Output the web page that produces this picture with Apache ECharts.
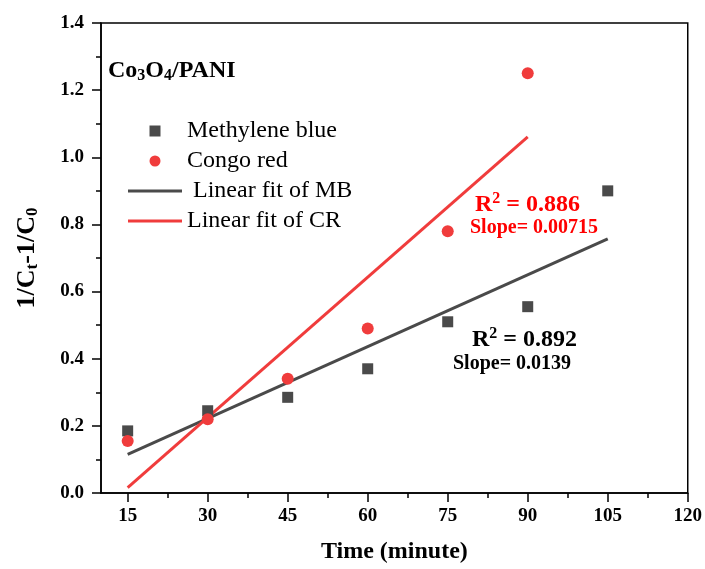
<!DOCTYPE html>
<html>
<head>
<meta charset="utf-8">
<script src="https://cdn.jsdelivr.net/npm/echarts@6/dist/echarts.min.js"></script>
<style>html,body{margin:0;padding:0;background:#fff;}#c{width:705px;height:569px;}</style>
</head>
<body>
<div id="c"></div>
<script>
// ---- data ----
var mbTimes = [15, 30, 45, 60, 75, 90, 105];
var mbValues = [0.185, 0.245, 0.285, 0.37, 0.51, 0.555, 0.90];
var crTimes = [15, 30, 45, 60, 75, 90];
var crValues = [0.155, 0.22, 0.34, 0.49, 0.78, 1.25];
var mbFitTimes = [15, 105];
var mbFitValues = [0.115, 0.757];
var crFitTimes = [15, 90];
var crFitValues = [0.016, 1.061];
var xTickLabels = [15, 30, 45, 60, 75, 90, 105, 120];
var xMinorTicks = [22.5, 37.5, 52.5, 67.5, 82.5, 97.5, 112.5];

function pairs(xs, ys) { return xs.map(function (x, i) { return [x, ys[i]]; }); }

var FONT = 'Liberation Serif';
var GRAY = '#4a4a4a';
var RED = '#f03c3c';

var chart = echarts.init(document.getElementById('c'), null, {renderer: 'canvas'});
chart.setOption({
  backgroundColor: '#fff',
  animation: false,
  grid: {left: 101, right: 16, top: 23, bottom: 74, show: true, borderColor: '#000', borderWidth: 1.5, containLabel: false},
  xAxis: [{
    type: 'value', min: 10, max: 120,
    name: 'Time (minute)', nameLocation: 'middle', nameGap: 47,
    nameTextStyle: {fontFamily: FONT, fontWeight: 'bold', fontSize: 24, color: '#000'},
    axisLine: {show: true, lineStyle: {color: '#000', width: 1.5}},
    axisTick: {show: true, inside: false, length: 9, lineStyle: {color: '#000', width: 1.5}, customValues: xTickLabels},
    axisLabel: {customValues: xTickLabels, margin: 14, fontFamily: FONT, fontWeight: 'bold', fontSize: 19, color: '#000'},
    splitLine: {show: false}
  }, {
    type: 'value', min: 10, max: 120, position: 'bottom',
    axisLine: {show: false},
    axisTick: {show: true, length: 5, lineStyle: {color: '#000', width: 1.5}, customValues: xMinorTicks},
    axisLabel: {show: false},
    splitLine: {show: false}
  }],
  yAxis: {
    type: 'value', min: 0, max: 1.4, interval: 0.2,
    name: '{n|1/C}{s|t}{n|-1/C}{s|0}', nameLocation: 'middle', nameGap: 60, nameRotate: 90,
    nameTextStyle: {
      fontFamily: FONT, fontWeight: 'bold', fontSize: 26, color: '#000',
      rich: {
        n: {fontFamily: FONT, fontWeight: 'bold', fontSize: 26, color: '#000'},
        s: {fontFamily: FONT, fontWeight: 'bold', fontSize: 17, color: '#000', padding: [10, 0, 0, 0]}
      }
    },
    axisLine: {show: true, lineStyle: {color: '#000', width: 1.5}},
    axisTick: {show: true, inside: false, length: 9, lineStyle: {color: '#000', width: 1.5}},
    minorTick: {show: true, splitNumber: 2, length: 5, lineStyle: {color: '#000', width: 1.5}},
    axisLabel: {margin: 17, fontFamily: FONT, fontWeight: 'bold', fontSize: 19, color: '#000',
      formatter: function (v) { return v.toFixed(1); }},
    splitLine: {show: false}
  },
  legend: {
    orient: 'vertical', left: 123, top: 114,
    itemWidth: 54, itemHeight: 11, itemGap: 6, symbolKeepAspect: true,
    textStyle: {fontFamily: FONT, fontSize: 24, color: '#000', lineHeight: 24},
    data: [
      {name: 'Methylene blue', icon: 'path://M0,0H10V10H0Z'},
      {name: 'Congo red', icon: 'circle'},
      {name: ' Linear fit of MB', icon: 'path://M0,0H54V3H0Z'},
      {name: 'Linear fit of CR', icon: 'path://M0,0H54V3H0Z'}
    ]
  },
  series: [
    {name: ' Linear fit of MB', type: 'line', data: pairs(mbFitTimes, mbFitValues), showSymbol: false, symbol: 'none',
      lineStyle: {color: GRAY, width: 3}, itemStyle: {color: GRAY}, z: 2},
    {name: 'Linear fit of CR', type: 'line', data: pairs(crFitTimes, crFitValues), showSymbol: false, symbol: 'none',
      lineStyle: {color: RED, width: 3}, itemStyle: {color: RED}, z: 2},
    {name: 'Methylene blue', type: 'scatter', data: pairs(mbTimes, mbValues), symbol: 'rect', symbolSize: 11,
      itemStyle: {color: GRAY, opacity: 1}, z: 3},
    {name: 'Congo red', type: 'scatter', data: pairs(crTimes, crValues), symbol: 'circle', symbolSize: 12,
      itemStyle: {color: RED, opacity: 1}, z: 3}
  ],
  graphic: [
    {type: 'text', left: 108, top: 59, style: {
      text: '{b|Co}{s|3}{b|O}{s|4}{b|/PANI}',
      rich: {
        b: {fontFamily: FONT, fontWeight: 'bold', fontSize: 24, fill: '#000'},
        s: {fontFamily: FONT, fontWeight: 'bold', fontSize: 16, fill: '#000', padding: [10, 0, 0, 0]}
      }}},
    {type: 'text', left: 475, top: 191, style: {
      text: '{b|R}{p|2}{b| = 0.886}',
      rich: {
        b: {fontFamily: FONT, fontWeight: 'bold', fontSize: 24, fill: '#ff0000'},
        p: {fontFamily: FONT, fontWeight: 'bold', fontSize: 16, fill: '#ff0000', padding: [0, 0, 11, 0]}
      }}},
    {type: 'text', left: 470, top: 218, style: {
      text: 'Slope= 0.00715', fontFamily: FONT, fontWeight: 'bold', fontSize: 20, fill: '#ff0000'}},
    {type: 'text', left: 472, top: 326, style: {
      text: '{b|R}{p|2}{b| = 0.892}',
      rich: {
        b: {fontFamily: FONT, fontWeight: 'bold', fontSize: 24, fill: '#000'},
        p: {fontFamily: FONT, fontWeight: 'bold', fontSize: 16, fill: '#000', padding: [0, 0, 11, 0]}
      }}},
    {type: 'text', left: 453, top: 354, style: {
      text: 'Slope= 0.0139', fontFamily: FONT, fontWeight: 'bold', fontSize: 20, fill: '#000'}}
  ]
});
</script>
</body>
</html>
